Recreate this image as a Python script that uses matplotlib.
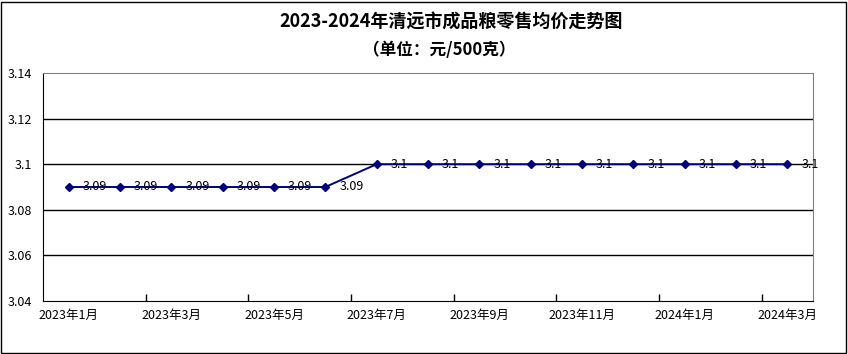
import matplotlib
matplotlib.use('Agg')
import matplotlib.pyplot as plt
from matplotlib.patches import Rectangle
import numpy as np

plt.rcParams['font.family'] = ['Noto Sans CJK SC', 'DejaVu Sans']

months = ['2023年1月', '2023年2月', '2023年3月', '2023年4月', '2023年5月', '2023年6月',
          '2023年7月', '2023年8月', '2023年9月', '2023年10月', '2023年11月', '2023年12月',
          '2024年1月', '2024年2月', '2024年3月']
prices = [3.09, 3.09, 3.09, 3.09, 3.09, 3.09,
          3.1, 3.1, 3.1, 3.1, 3.1, 3.1, 3.1, 3.1, 3.1]
yticks = [3.04, 3.06, 3.08, 3.1, 3.12, 3.14]
ytick_labels = ['3.04', '3.06', '3.08', '3.1', '3.12', '3.14']

fig = plt.figure(figsize=(8.48, 3.54), dpi=100)
ax = fig.add_axes([43/848, 1 - 301/354, 770/848, 228/354])

x = np.arange(len(months))
ax.plot(x, prices, color='#000080', linewidth=1.4, marker='D', markersize=4,
        markerfacecolor='#000080', markeredgecolor='#000080', zorder=3)

for xi, v in zip(x, prices):
    ax.annotate('%g' % v, (xi, v), xytext=(10, 0), textcoords='offset points',
                fontsize=9, ha='left', va='center', annotation_clip=False, zorder=4)

ax.set_xlim(-0.5, len(months) - 0.5)
ax.set_ylim(3.04, 3.14)
ax.set_yticks(yticks)
ax.set_yticklabels(ytick_labels, fontsize=9)
ax.tick_params(axis='y', length=0, pad=8)

# labels on every second category, tick marks on category borders
ax.set_xticks(x[::2])
ax.set_xticklabels(months[::2], fontsize=9)
ax.set_xticks(np.arange(1.5, len(months) - 1, 2), minor=True)
ax.tick_params(axis='x', which='major', length=0, pad=6)
ax.tick_params(axis='x', which='minor', direction='in', length=5, width=1, color='black')

for yv in yticks[1:-1]:
    ax.axhline(yv, color='black', linewidth=1, zorder=1)

ax.spines['left'].set_color('black')
ax.spines['bottom'].set_color('black')
ax.spines['top'].set_color('#808080')
ax.spines['right'].set_color('#808080')

fig.text(0.532, 1 - 22/354, '2023-2024年清远市成品粮零售均价走势图', ha='center', va='center',
         fontsize=13, fontweight='bold')
fig.text(0.518, 1 - 50/354, '（单位：元/500克）', ha='center', va='center',
         fontsize=12, fontweight='bold')

fig.patches.append(Rectangle((1/848, 1/354), 845/848, 351/354, transform=fig.transFigure,
                             fill=False, edgecolor='black', linewidth=1))

fig.savefig('out.png', dpi=100)
